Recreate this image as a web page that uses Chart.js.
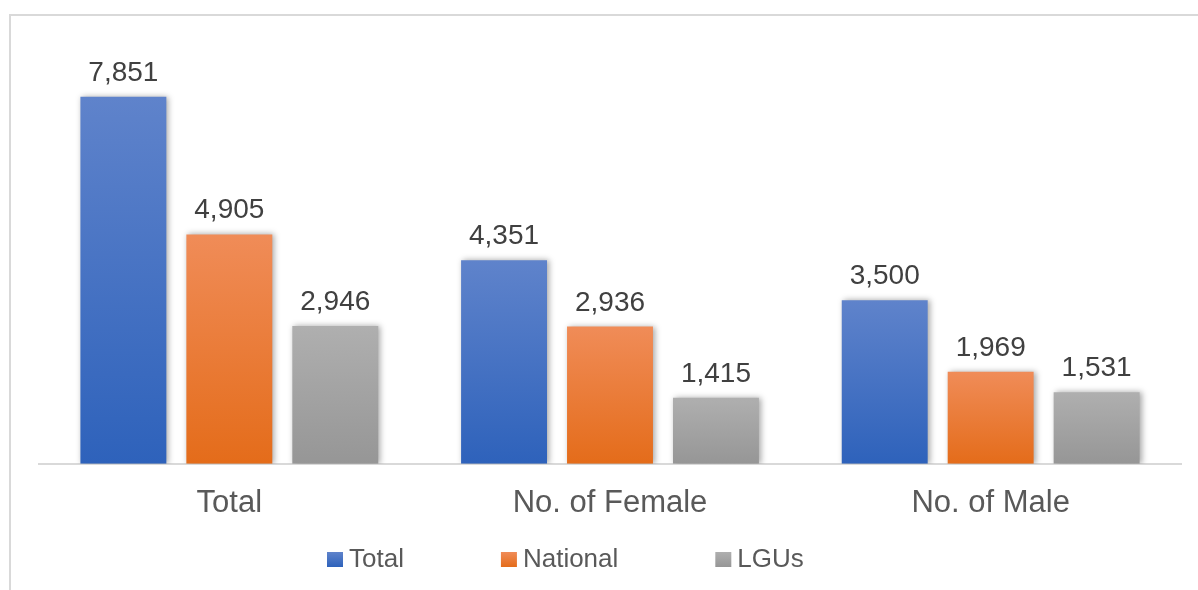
<!DOCTYPE html>
<html>
<head>
<meta charset="utf-8">
<script src="https://cdn.jsdelivr.net/npm/chart.js@4/dist/chart.umd.min.js"></script>
<style>
  html, body { margin: 0; padding: 0; background: #fff; overflow: hidden; }
  #frame { position: absolute; left: 9px; top: 14px; width: 1250px; height: 650px;
           border-top: 2px solid #d9d9d9; border-left: 2px solid #d9d9d9; }
  #wrap { position: absolute; left: 0; top: 0; width: 1198px; height: 590px; }
</style>
</head>
<body>
<div id="frame"></div>
<div id="wrap"><canvas id="chart" width="1198" height="590"></canvas></div>
<script>
const categories = ['Total', 'No. of Female', 'No. of Male'];
const seriesNames = ['Total', 'National', 'LGUs'];
const totalValues = [7851, 4351, 3500];
const nationalValues = [4905, 2936, 1969];
const lguValues = [2946, 1415, 1531];

// top / bottom colours of each bar's vertical gradient
const gradients = [
  ['#5f83cb', '#2e62bb'],
  ['#f08c58', '#e46c1a'],
  ['#afafaf', '#969696'],
];

Chart.defaults.font.family = '"Liberation Sans", Arial, sans-serif';

function barFill(i) {
  const [top, bottom] = gradients[i];
  return (c) => {
    const y = c.chart.scales.y;
    if (c.type !== 'data' || !y) return bottom;
    const y0 = y.getPixelForValue(c.raw);
    const y1 = y.getPixelForValue(0);
    if (!isFinite(y0) || !isFinite(y1)) return bottom;
    const g = c.chart.ctx.createLinearGradient(0, y0, 0, y1);
    g.addColorStop(0, top);
    g.addColorStop(1, bottom);
    return g;
  };
}

const barShadow = {
  id: 'barShadow',
  beforeDatasetDraw(chart) {
    const ctx = chart.ctx;
    ctx.save();
    ctx.shadowColor = 'rgba(0,0,0,0.35)';
    ctx.shadowBlur = 6;
    ctx.shadowOffsetX = 2;
    ctx.shadowOffsetY = 0;
  },
  afterDatasetDraw(chart) {
    chart.ctx.restore();
  },
};

const valueLabels = {
  id: 'valueLabels',
  afterDatasetsDraw(chart) {
    const ctx = chart.ctx;
    ctx.save();
    ctx.font = '28px "Liberation Sans", Arial, sans-serif';
    ctx.fillStyle = '#404040';
    ctx.textAlign = 'center';
    ctx.textBaseline = 'alphabetic';
    chart.data.datasets.forEach((ds, i) => {
      chart.getDatasetMeta(i).data.forEach((bar, j) => {
        ctx.fillText(ds.data[j].toLocaleString('en-US'), bar.x, bar.y - 16);
      });
    });
    ctx.restore();
  },
};

// legend drawn by hand: Excel spacing is wider than Chart.js allows without a huge legend box
const bottomLegend = {
  id: 'bottomLegend',
  afterDraw(chart) {
    const ctx = chart.ctx;
    const fontSize = 26;
    const gap = 97;
    const yMid = 559;
    let x = 327;
    ctx.save();
    ctx.font = fontSize + 'px "Liberation Sans", Arial, sans-serif';
    ctx.textBaseline = 'middle';
    ctx.textAlign = 'left';
    chart.data.datasets.forEach((ds, i) => {
      const g = ctx.createLinearGradient(0, yMid - 7, 0, yMid + 8);
      g.addColorStop(0, gradients[i][0]);
      g.addColorStop(1, gradients[i][1]);
      ctx.fillStyle = g;
      ctx.fillRect(x, yMid - 7, 16, 15);
      ctx.fillStyle = '#595959';
      ctx.fillText(ds.label, x + 22, yMid + 1);
      x += 22 + ctx.measureText(ds.label).width + gap;
    });
    ctx.restore();
  },
};

const seriesData = [totalValues, nationalValues, lguValues];

new Chart(document.getElementById('chart'), {
  type: 'bar',
  data: {
    labels: categories,
    datasets: seriesNames.map((name, i) => ({
      label: name,
      data: seriesData[i],
      backgroundColor: barFill(i),
      borderWidth: 0,
      categoryPercentage: 0.835,
      barPercentage: 0.811,
    })),
  },
  options: {
    responsive: false,
    animation: false,
    layout: { padding: { left: 39, right: 17, top: 43, bottom: 47 } },
    plugins: {
      legend: { display: false },
      tooltip: { enabled: false },
    },
    scales: {
      x: {
        grid: { display: false, drawTicks: false },
        border: { display: true, color: '#d9d9d9', width: 2 },
        ticks: { color: '#595959', font: { size: 31 }, padding: 21 },
      },
      y: {
        display: false,
        min: 0,
        max: 9000,
      },
    },
  },
  plugins: [barShadow, valueLabels, bottomLegend],
});
</script>
</body>
</html>
